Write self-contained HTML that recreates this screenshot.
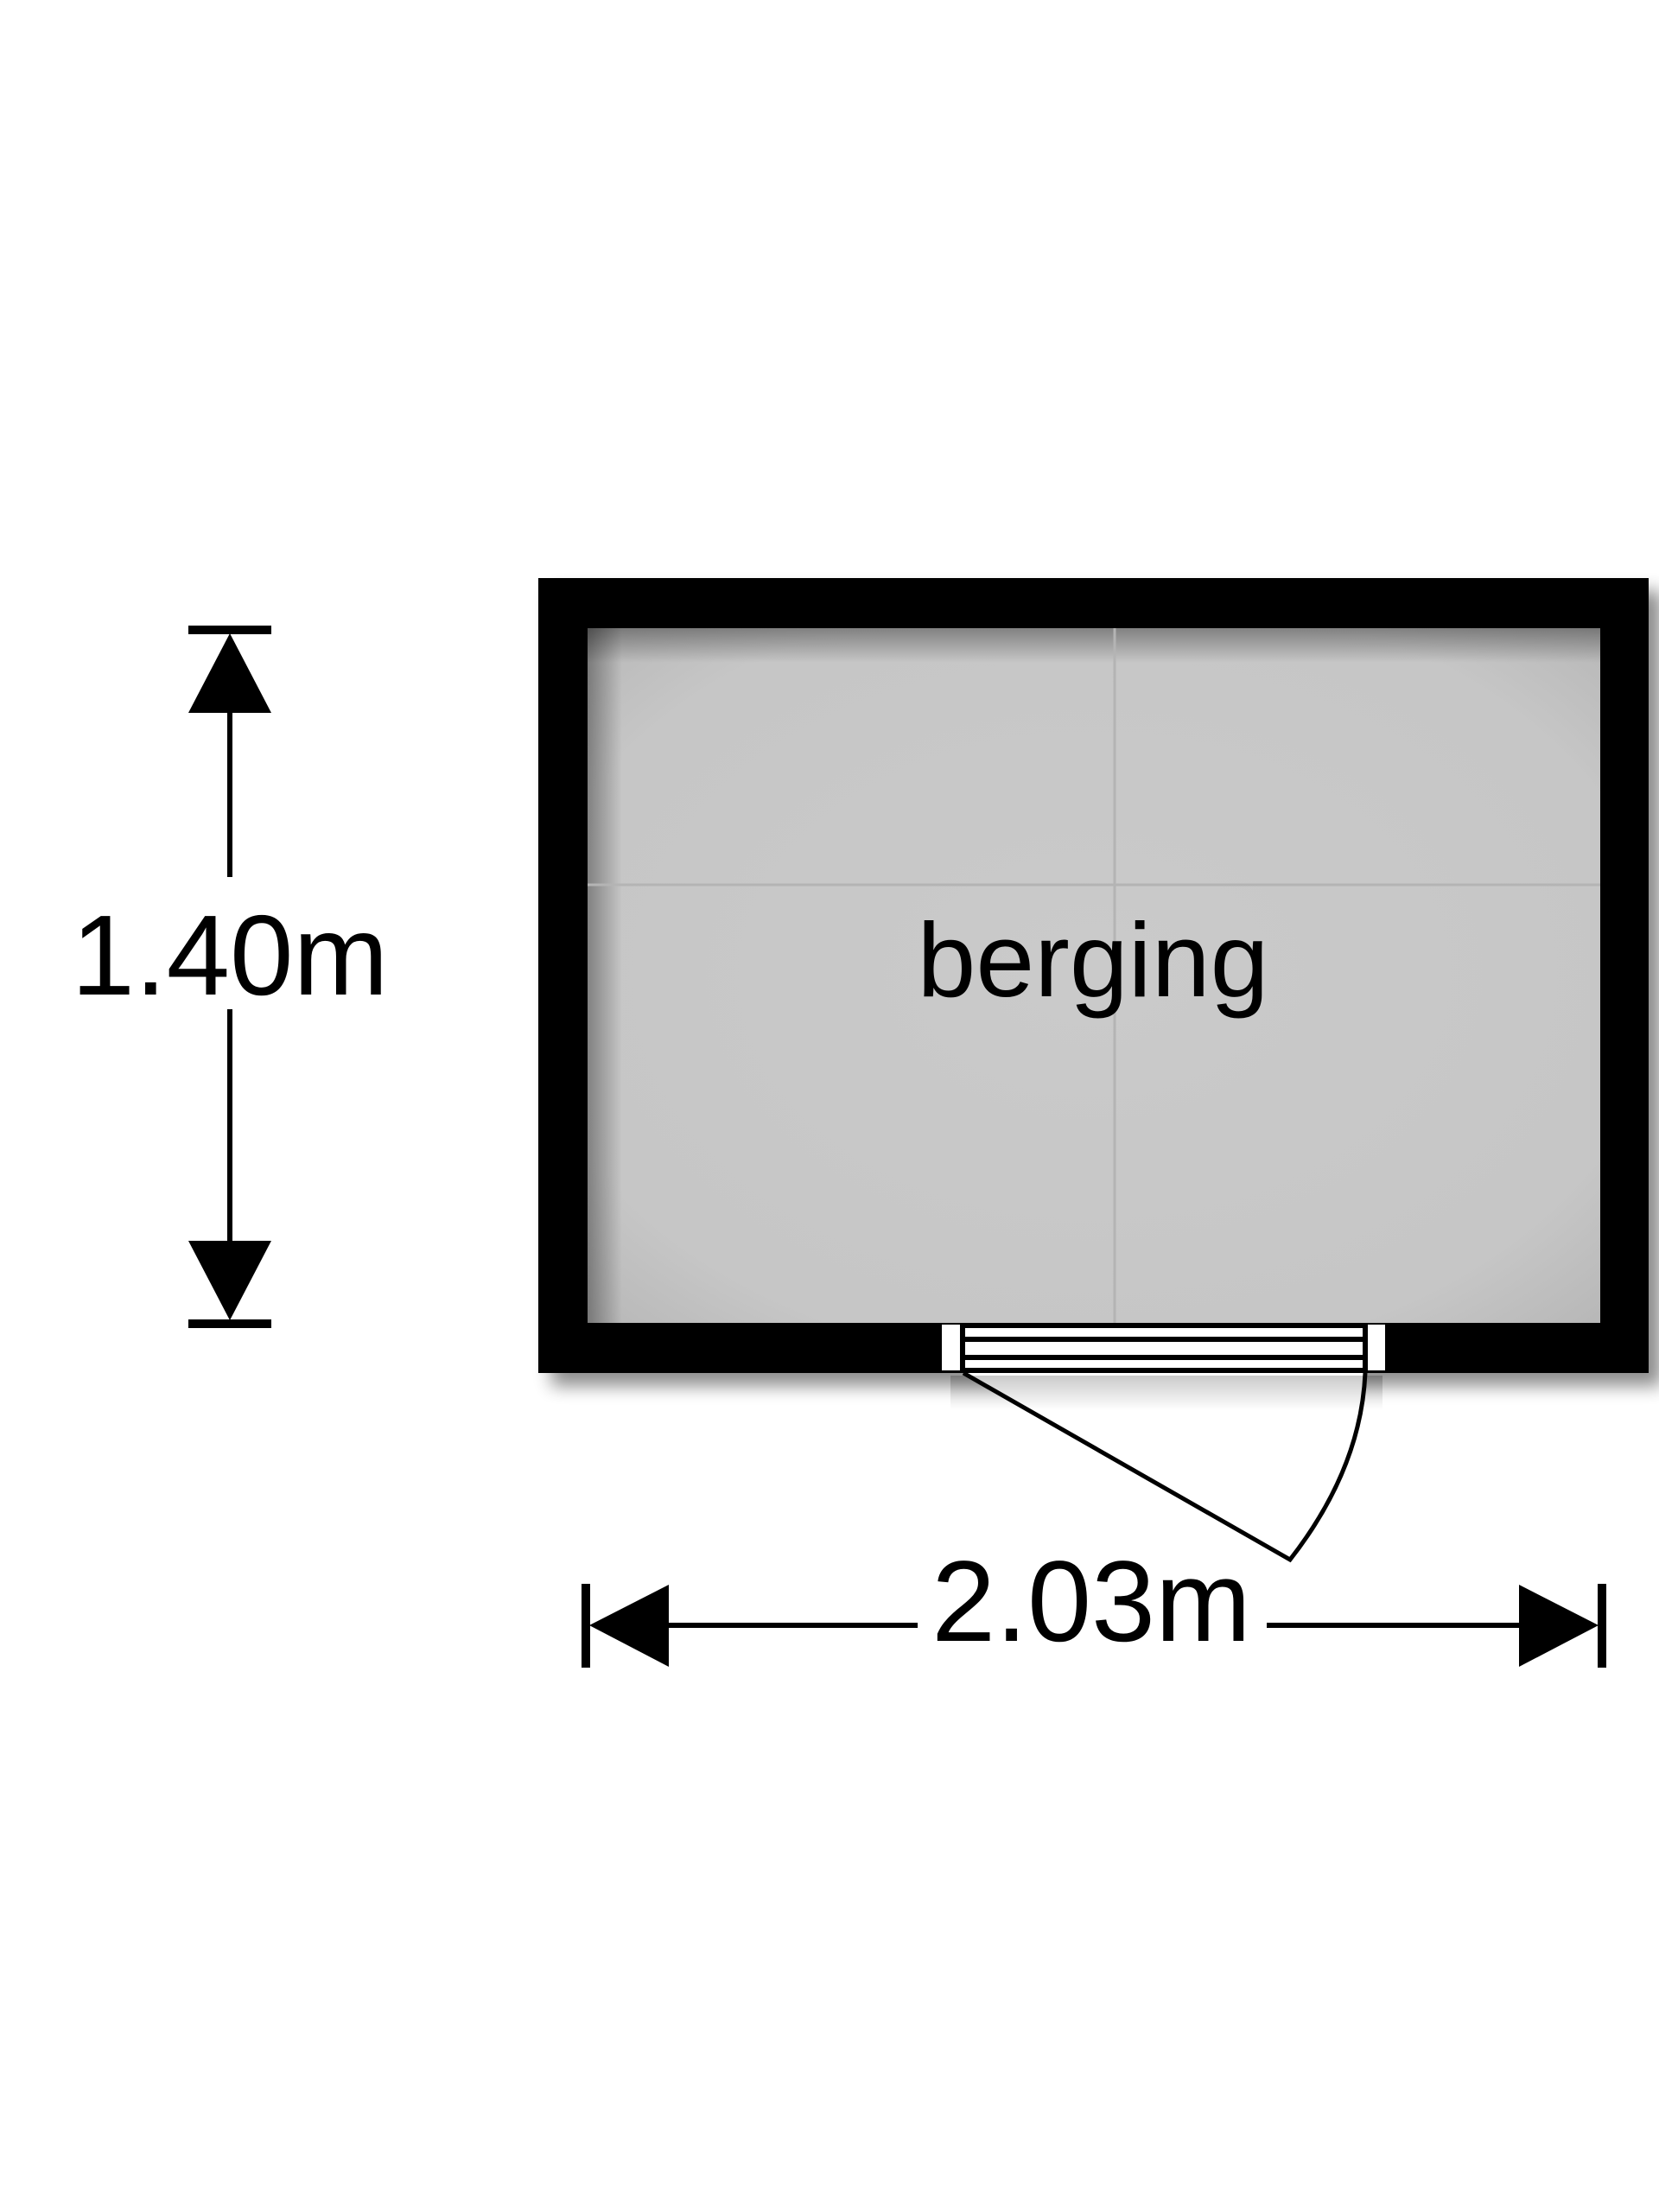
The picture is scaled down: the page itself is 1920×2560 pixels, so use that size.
<!DOCTYPE html>
<html><head><meta charset="utf-8"><style>
html,body{margin:0;padding:0;background:#fff;}
svg{display:block;}
text{font-family:"Liberation Sans",Arial,sans-serif;fill:#000;}
</style></head><body>
<svg width="1920" height="2560" viewBox="0 0 1920 2560" xmlns="http://www.w3.org/2000/svg">
<defs>
<filter id="sh" x="-10%" y="-10%" width="130%" height="130%"><feGaussianBlur stdDeviation="10"/></filter>
<radialGradient id="fl" cx="50%" cy="50%" r="70%">
<stop offset="0" stop-color="#cacaca"/><stop offset="0.8" stop-color="#c6c6c6"/><stop offset="1" stop-color="#b8b8b8"/>
</radialGradient>
<linearGradient id="topsh" x1="0" y1="0" x2="0" y2="1"><stop offset="0" stop-color="#000" stop-opacity="0.35"/><stop offset="1" stop-color="#000" stop-opacity="0"/></linearGradient>
<linearGradient id="leftsh" x1="0" y1="0" x2="1" y2="0"><stop offset="0" stop-color="#000" stop-opacity="0.35"/><stop offset="1" stop-color="#000" stop-opacity="0"/></linearGradient>
</defs>
<rect x="638" y="684" width="1285" height="920" fill="#000" opacity="0.45" filter="url(#sh)"/>
<rect x="623" y="669" width="1285" height="920" fill="#000"/>
<rect x="680" y="727" width="1172" height="804" fill="url(#fl)"/>
<rect x="680" y="727" width="1172" height="40" fill="url(#topsh)"/>
<rect x="680" y="727" width="40" height="804" fill="url(#leftsh)"/>
<line x1="1290" y1="727" x2="1290" y2="1531" stroke="#b4b4b4" stroke-width="3"/>
<line x1="680" y1="1024" x2="1852" y2="1024" stroke="#b4b4b4" stroke-width="3"/>
<text x="1265" y="1153" font-size="122" text-anchor="middle">berging</text>
<!-- door -->
<rect x="1090" y="1533" width="21" height="53" fill="#fff"/>
<rect x="1583" y="1533" width="20" height="53" fill="#fff"/>
<rect x="1117" y="1537" width="460" height="10" fill="#fff"/>
<rect x="1117" y="1553" width="460" height="15" fill="#fff"/>
<rect x="1117" y="1574" width="460" height="9" fill="#fff"/>
<path d="M1115 1589 L1493 1805 Q1575 1700 1580 1589" fill="#fff" stroke="#000" stroke-width="5" stroke-linejoin="miter"/>
<rect x="1100" y="1592" width="500" height="40" fill="url(#topsh)" opacity="0.6"/>
<!-- vertical dimension -->
<rect x="218" y="724" width="96" height="10" fill="#000"/>
<rect x="218" y="1527" width="96" height="10" fill="#000"/>
<polygon points="266,733 218,825 314,825" fill="#000"/>
<polygon points="266,1528 218,1436 314,1436" fill="#000"/>
<line x1="266" y1="825" x2="266" y2="1015" stroke="#000" stroke-width="6"/>
<line x1="266" y1="1168" x2="266" y2="1436" stroke="#000" stroke-width="6"/>
<text x="266" y="1151" font-size="132" text-anchor="middle">1.40m</text>
<!-- horizontal dimension -->
<rect x="673" y="1833" width="10" height="97" fill="#000"/>
<rect x="1849" y="1833" width="10" height="97" fill="#000"/>
<polygon points="682,1881 774,1834 774,1929" fill="#000"/>
<polygon points="1850,1881 1758,1834 1758,1929" fill="#000"/>
<line x1="774" y1="1881" x2="1062" y2="1881" stroke="#000" stroke-width="6"/>
<line x1="1466" y1="1881" x2="1758" y2="1881" stroke="#000" stroke-width="6"/>
<text x="1263" y="1899" font-size="133" text-anchor="middle">2.03m</text>
</svg>
</body></html>
